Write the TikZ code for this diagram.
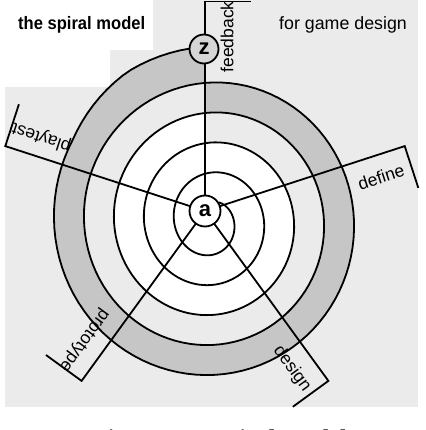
\documentclass[tikz,border=0pt]{standalone}
\usepackage{fontspec}
\setmainfont{Liberation Sans}
\newfontfamily\capfont{Liberation Serif}
\usepackage{graphicx}
\definecolor{paper}{HTML}{EBEBEB}
\definecolor{bandgray}{HTML}{C6C6C6}
\definecolor{zgray}{HTML}{D6D6D6}
\begin{document}
\begin{tikzpicture}[x=1pt,y=-1pt,
  declare function={
    ex(\t)=6*min(1,max(0,(\t-1650)/30));
    sx(\t)=211.5+(22.5+\t/12+ex(\t))*cos(\t);
    sy(\t)=221.25+(26.25+\t/12+ex(\t))*sin(\t);
  },
  ring/.style={line width=1.8pt, line join=miter, line cap=butt},
  lbl/.style={font=\fontsize{17.5}{20}\selectfont, inner sep=0pt},
  disc/.style={circle, draw, line width=1.8pt, inner sep=0pt,
    font=\bfseries\fontsize{22}{24}\selectfont},
  acirc/.style={disc, fill=white, minimum size=31pt},
  zcirc/.style={disc, fill=zgray, minimum size=29pt}]
\useasboundingbox (0,0) rectangle (425,430);
\clip (0,0) rectangle (425,430);
% paper
\fill[white] (0,0) rectangle (425,430);
\fill[paper] (5,0) rectangle (418,407);
\fill[white] (0,0) -- (153,0) -- (153,50) -- (110,50) -- (110,87) -- (0,87) -- cycle;
% spiral interior and shaded last turn
\fill[white] plot[domain=625.2:986.5, samples=120, variable=\t] ({sx(\t)},{sy(\t)}) -- cycle;
\fill[bandgray] plot[domain=986.5:1347.3, samples=140, variable=\t] ({sx(\t)},{sy(\t)})
  -- plot[domain=1707.9:1347.3, samples=140, variable=\t] ({sx(\t)},{sy(\t)}) -- cycle;
% spiral
\draw[ring] plot[domain=-65:1710, samples=500, variable=\t] ({sx(\t)},{sy(\t)});
% spoke coordinates
\coordinate (ca) at (205,211);
\coordinate (cz) at (204,49);
\coordinate (fbE) at (205,1.5);   \coordinate (fbT) at (251,1.5);
\coordinate (dfE) at (404.7,146.1); \coordinate (dfT) at (418.3,187.9);
\coordinate (dsE) at (328.4,380.9); \coordinate (dsT) at (292.8,406.8);
\coordinate (prE) at (81.6,380.9);  \coordinate (prT) at (46,355);
\coordinate (plE) at (5.3,146.1);   \coordinate (plT) at (18.9,104.3);
\draw[ring] (ca) -- (fbE) -- (fbT);
\draw[ring] (ca) -- (dfE) -- (dfT);
\draw[ring] (ca) -- (dsE) -- (dsT);
\draw[ring] (ca) -- (prE) -- (prT);
\draw[ring] (ca) -- (plE) -- (plT);
% centre and end discs
\node[acirc] (a) at (ca) {a};
\node[zcirc] (z) at (cz) {z};
% spoke labels
\node[lbl, rotate=90]   (lfb) at (227,37)     {feedback};
\node[lbl, rotate=18]   (ldf) at (381,177)    {define};
\node[lbl, rotate=-54]  (lds) at (292,369)    {design};
\node[lbl, rotate=-126] (lpr) at (84,340)     {prototype};
\node[lbl, rotate=162]  (lpl) at (41.5,137)   {playtest};
% titles
\node[anchor=base west, inner sep=0pt] (title) at (18,30)
  {\scalebox{0.92}[1]{\bfseries\fontsize{18}{20}\selectfont the spiral model}};
\node[anchor=base west, inner sep=0pt, font=\fontsize{17.8}{20}\selectfont] (sub) at (279,30)
  {for game design};
% caption (cut by the lower edge, as in the reference)
\node[anchor=base west, inner sep=0pt, font=\capfont\bfseries\fontsize{24}{26}\selectfont] (cap) at (93,446)
  {Figure 2.4: Spiral Model};
\end{tikzpicture}
\end{document}
